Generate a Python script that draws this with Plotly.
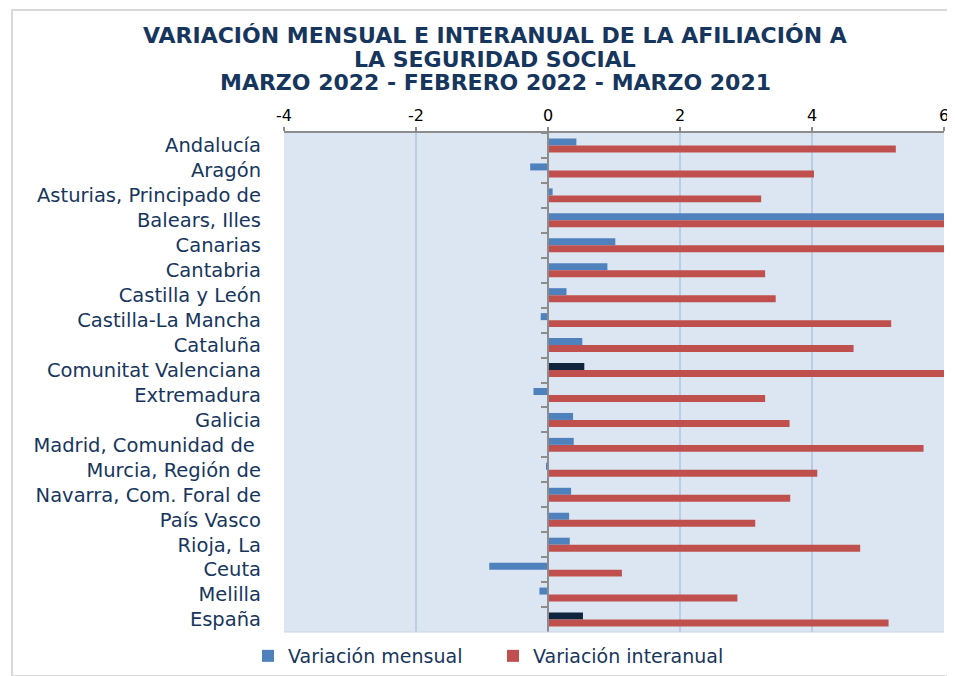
import plotly.graph_objects as go

categories = ["Andalucía", "Aragón", "Asturias, Principado de", "Balears, Illes", "Canarias",
              "Cantabria", "Castilla y León", "Castilla-La Mancha", "Cataluña",
              "Comunitat Valenciana", "Extremadura", "Galicia", "Madrid, Comunidad de ",
              "Murcia, Región de", "Navarra, Com. Foral de", "País Vasco", "Rioja, La",
              "Ceuta", "Melilla", "España"]

mensual = [0.43, -0.27, 0.07, 7.0, 1.02, 0.90, 0.28, -0.11, 0.52, 0.55,
           -0.22, 0.38, 0.39, -0.02, 0.35, 0.32, 0.33, -0.89, -0.13, 0.53]
interanual = [5.27, 4.03, 3.23, 10.5, 7.2, 3.29, 3.45, 5.20, 4.63, 6.3,
              3.29, 3.66, 5.69, 4.08, 3.67, 3.14, 4.73, 1.12, 2.87, 5.16]
highlight = ["Comunitat Valenciana", "España"]

x_ticks = [-4, -2, 0, 2, 4, 6]

title_lines = ["VARIACIÓN MENSUAL E INTERANUAL DE LA AFILIACIÓN A",
               "LA SEGURIDAD SOCIAL",
               "MARZO 2022 - FEBRERO 2022 - MARZO 2021"]

BLUE = "#4f81bd"
RED = "#c0504d"
NAVY = "#10243e"
TXT = "#17365d"

# the page body has an 8px margin, so the figure is sized to fit the window
W, H = 947, 668
ML, MR, MT, MB = 276, 11, 125, 44
PW, PH = W - ML - MR, H - MT - MB

mens_colors = [NAVY if c in highlight else BLUE for c in categories]
y_range = [len(categories) - 0.5, -0.5]

fig = go.Figure()
fig.add_trace(go.Bar(y=categories, x=mensual, orientation="h", name="Variación mensual",
                     marker=dict(color=mens_colors, line=dict(width=0))))
fig.add_trace(go.Bar(y=categories, x=interanual, orientation="h", name="Variación interanual",
                     marker=dict(color=RED, line=dict(width=0))))
# invisible trace to carry the category tick marks on the zero line
fig.add_trace(go.Scatter(y=categories, x=[0] * len(categories), mode="markers",
                         marker=dict(opacity=0), yaxis="y2", showlegend=False,
                         hoverinfo="skip"))

dom = [0.0, 1.0]
zero_pos = dom[0] + (0 - x_ticks[0]) / (x_ticks[-1] - x_ticks[0]) * (dom[1] - dom[0])

fig.update_layout(
    width=W, height=H,
    margin=dict(l=ML, r=MR, t=MT, b=MB, autoexpand=False),
    paper_bgcolor="white",
    plot_bgcolor="#dce6f2",
    barmode="group",
    bargap=0.44,
    bargroupgap=0.0,
    xaxis=dict(
        side="top", range=[x_ticks[0], x_ticks[-1]], tickvals=x_ticks,
        ticktext=[str(v) for v in x_ticks],
        showgrid=True, gridcolor="#b9cde5", gridwidth=2,
        zeroline=False,
        showline=True, linecolor="#8c8c8c", linewidth=2,
        ticks="outside", ticklen=4, tickcolor="#8c8c8c", tickwidth=2,
        tickfont=dict(family="DejaVu Sans", size=16, color="#000000"),
        domain=dom, fixedrange=True, automargin=False,
    ),
    yaxis=dict(
        categoryorder="array", categoryarray=categories,
        range=y_range, autorange=False,
        showgrid=False, zeroline=False, showline=False,
        ticks="", ticklabelstandoff=22, automargin=False,
        tickfont=dict(family="DejaVu Sans", size=19.5, color=TXT),
    ),
    yaxis2=dict(
        overlaying="y", anchor="free", position=zero_pos,
        categoryorder="array", categoryarray=categories,
        range=y_range, autorange=False, automargin=False,
        showticklabels=False, showgrid=False, zeroline=False,
        showline=True, linecolor="#8c8c8c", linewidth=2,
        ticks="outside", tickson="boundaries", ticklen=6,
        tickcolor="#8c8c8c", tickwidth=2,
    ),
    legend=dict(
        orientation="h", xref="container", yref="container",
        x=(493 - 8) / W, xanchor="center", y=20 / H, yanchor="middle",
        font=dict(family="DejaVu Sans", size=19, color=TXT),
        traceorder="normal", itemsizing="constant",
        entrywidthmode="pixels", entrywidth=200,
    ),
    showlegend=True,
)

# page-pixel positions of the title lines
title_y = [36, 59, 82]
for line, yy in zip(title_lines, title_y):
    fig.add_annotation(text=line, xref="paper", yref="paper",
                       x=(495 - 8 - ML) / PW, y=1 + (MT + 8 - yy) / PH,
                       xanchor="center", yanchor="middle", showarrow=False,
                       font=dict(family="DejaVu Sans", size=22, color=TXT, weight="bold"))

fig.add_shape(type="line", xref="paper", yref="paper", x0=0, x1=1, y0=0, y1=0,
              line=dict(color="#c9d6e6", width=1))
fig.add_shape(type="rect", xref="paper", yref="paper",
              x0=-(ML - 4) / PW, x1=1 + MR / PW, y0=-MB / PH, y1=1 + (MT - 2) / PH,
              line=dict(color="#d9d9d9", width=2), fillcolor="rgba(0,0,0,0)")

fig.write_html("out.html")
